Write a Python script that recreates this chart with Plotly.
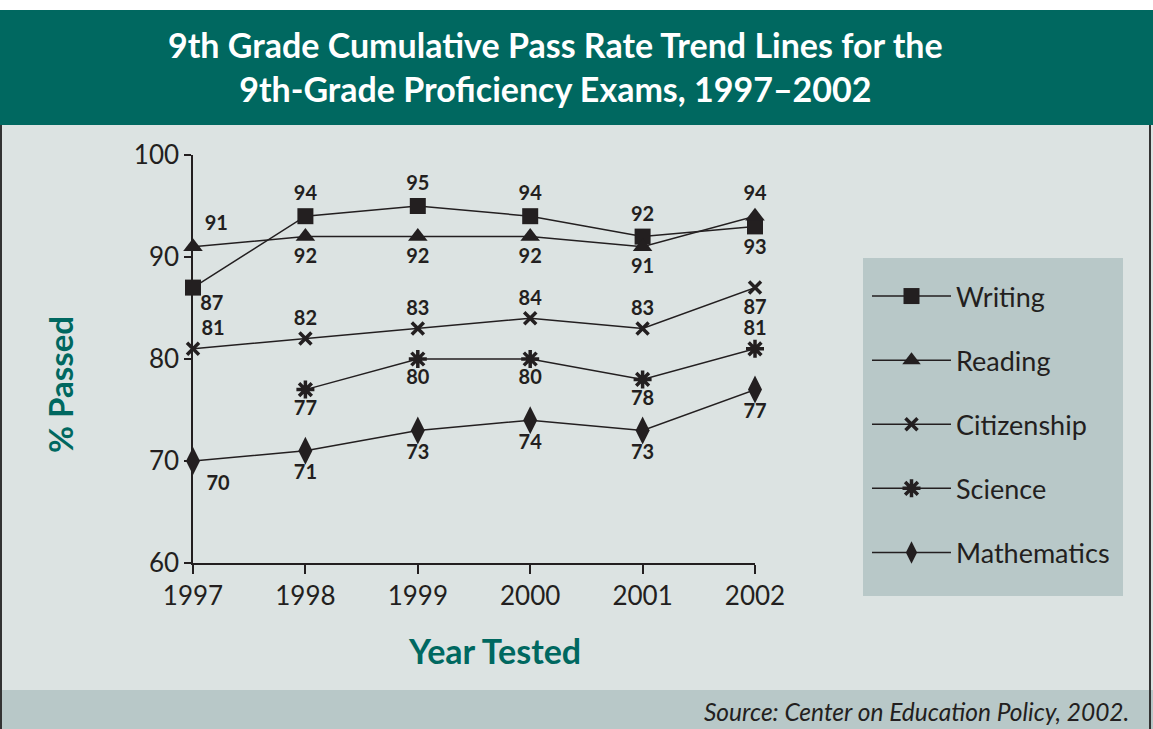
import plotly.graph_objects as go

# ---- data ----
years = [1997, 1998, 1999, 2000, 2001, 2002]
writing = [87, 94, 95, 94, 92, 93]
reading = [91, 92, 92, 92, 91, 94]
citizenship = [81, 82, 83, 84, 83, 87]
science = [None, 77, 80, 80, 78, 81]
mathematics = [70, 71, 73, 74, 73, 77]
series_names = ["Writing", "Reading", "Citizenship", "Science", "Mathematics"]
y_ticks = [60, 70, 80, 90, 100]

# label placement per point
writing_pos = ["bottom right", "top center", "top center", "top center", "top center", "bottom center"]
reading_pos = ["top right", "bottom center", "bottom center", "bottom center", "bottom center", "top center"]
citizenship_pos = ["top right", "top center", "top center", "top center", "top center", "bottom center"]
science_pos = ["bottom center", "bottom center", "bottom center", "bottom center", "bottom center", "top center"]
math_pos = ["bottom right", "bottom center", "bottom center", "bottom center", "bottom center", "bottom center"]

# ---- styling ----
W, H = 1153, 729
L, R, T, B = 193, 398, 155, 166
FONT = "Lato"
INK = "#231f20"
TEAL = "#006860"
BG = "#dce3e2"
BOX = "#b8c8c8"


def px(x):
    return (x - L) / (W - L - R)


def py(y):
    return (H - B - y) / (H - T - B)


# label offset sizes (invisible marker size per point controls label distance)
writing_gap = [10, 16, 16, 16, 16, 18]
reading_gap = [17, 17, 17, 17, 17, 17]
citizenship_gap = [12, 12, 12, 12, 12, 16]
science_gap = [15, 15, 15, 15, 15, 12]
math_gap = [20, 20, 20, 20, 20, 20]

series = [
    (series_names[0], writing, writing_pos, writing_gap, dict(symbol="square", size=16, color=INK)),
    (series_names[1], reading, reading_pos, reading_gap, dict(symbol="triangle-up", size=17, color=INK)),
    (series_names[2], citizenship, citizenship_pos, citizenship_gap,
     dict(symbol="x-thin-open", size=12, color=INK, line=dict(width=3.5, color=INK))),
    (series_names[3], science, science_pos, science_gap,
     dict(symbol="asterisk-open", size=15, color=INK, line=dict(width=3.5, color=INK))),
    (series_names[4], mathematics, math_pos, math_gap, dict(symbol="diamond-tall", size=20, color=INK)),
]

fig = go.Figure()
for name, vals, pos, gap, mk in series:
    fig.add_trace(go.Scatter(
        x=years, y=vals, name=name, legendgroup=name,
        mode="lines+markers", line=dict(color=INK, width=1.5),
        marker=mk, cliponaxis=False,
    ))
for name, vals, pos, gap, mk in series:
    fig.add_trace(go.Scatter(
        x=years, y=vals, mode="markers+text", showlegend=False,
        text=[None if v is None else str(v) for v in vals],
        textposition=pos,
        textfont=dict(family=FONT, size=20, color=INK, weight="bold"),
        marker=dict(size=gap, color="rgba(0,0,0,0)", opacity=0,
                    line=dict(width=0, color="rgba(0,0,0,0)")),
        cliponaxis=False, hoverinfo="skip",
    ))

shapes = [
    dict(type="rect", xref="paper", yref="paper", x0=px(0), x1=px(W), y0=py(125), y1=py(10),
         fillcolor=TEAL, line=dict(width=0), layer="below"),
    dict(type="rect", xref="paper", yref="paper", x0=px(0), x1=px(W), y0=py(690), y1=py(125),
         fillcolor=BG, line=dict(width=0), layer="below"),
    dict(type="rect", xref="paper", yref="paper", x0=px(0), x1=px(W), y0=py(729), y1=py(690),
         fillcolor=BOX, line=dict(width=0), layer="below"),
    dict(type="line", xref="paper", yref="paper", x0=px(1), x1=px(1), y0=py(729), y1=py(125),
         line=dict(color="#333", width=2)),
    dict(type="line", xref="paper", yref="paper", x0=px(1150), x1=px(1150), y0=py(729), y1=py(125),
         line=dict(color="#333", width=2)),
    dict(type="rect", xref="paper", yref="paper", x0=px(863), x1=px(1123), y0=py(596), y1=py(258),
         fillcolor=BOX, line=dict(width=0), layer="below"),
]

annotations = [
    dict(text="<b>9th Grade Cumulative Pass Rate Trend Lines for the<br>9th-Grade Proficiency Exams, 1997–2002</b>",
         xref="paper", yref="paper", x=px(555), y=py(66), xanchor="center", yanchor="middle",
         showarrow=False, font=dict(family=FONT, size=34, color="white")),
    dict(text="<b>% Passed</b>", xref="paper", yref="paper", x=px(60), y=py(385),
         xanchor="center", yanchor="middle", textangle=-90, showarrow=False,
         font=dict(family=FONT, size=33, color=TEAL)),
    dict(text="<b>Year Tested</b>", xref="paper", yref="paper", x=px(494), y=py(650),
         xanchor="center", yanchor="middle", showarrow=False,
         font=dict(family=FONT, size=34, color=TEAL)),
    dict(text="<i>Source: Center on Education Policy, 2002.</i>", xref="paper", yref="paper",
         x=px(1131), y=py(711), xanchor="right", yanchor="middle", showarrow=False,
         font=dict(family=FONT, size=24.5, color=INK)),
]

fig.update_layout(
    width=W, height=H, autosize=False,
    margin=dict(l=L, r=R, t=T, b=B, pad=0),
    paper_bgcolor="white", plot_bgcolor="rgba(0,0,0,0)",
    font=dict(family=FONT, color=INK),
    shapes=shapes, annotations=annotations,
    showlegend=True,
    legend=dict(x=px(867), y=py(272), xanchor="left", yanchor="top",
                bgcolor="rgba(0,0,0,0)", borderwidth=0, tracegroupgap=26, itemwidth=79,
                font=dict(family=FONT, size=27, color=INK)),
    xaxis=dict(range=[1997, 2002], tickvals=years, ticktext=[str(y) for y in years],
               showgrid=False, zeroline=False, showline=True, linecolor=INK, linewidth=1.5,
               ticks="outside", ticklen=9, tickwidth=1.5, tickcolor=INK,
               tickfont=dict(family=FONT, size=26, color=INK)),
    yaxis=dict(range=[60, 100], tickvals=y_ticks, showgrid=False, zeroline=False,
               showline=True, linecolor=INK, linewidth=1.5,
               ticks="outside", ticklen=7, tickwidth=1.5, tickcolor=INK,
               tickfont=dict(family=FONT, size=26, color=INK)),
)

fig.write_html("out.html", config={"displayModeBar": False},
               post_script="document.body.style.margin='0';document.body.style.overflow='hidden';")
